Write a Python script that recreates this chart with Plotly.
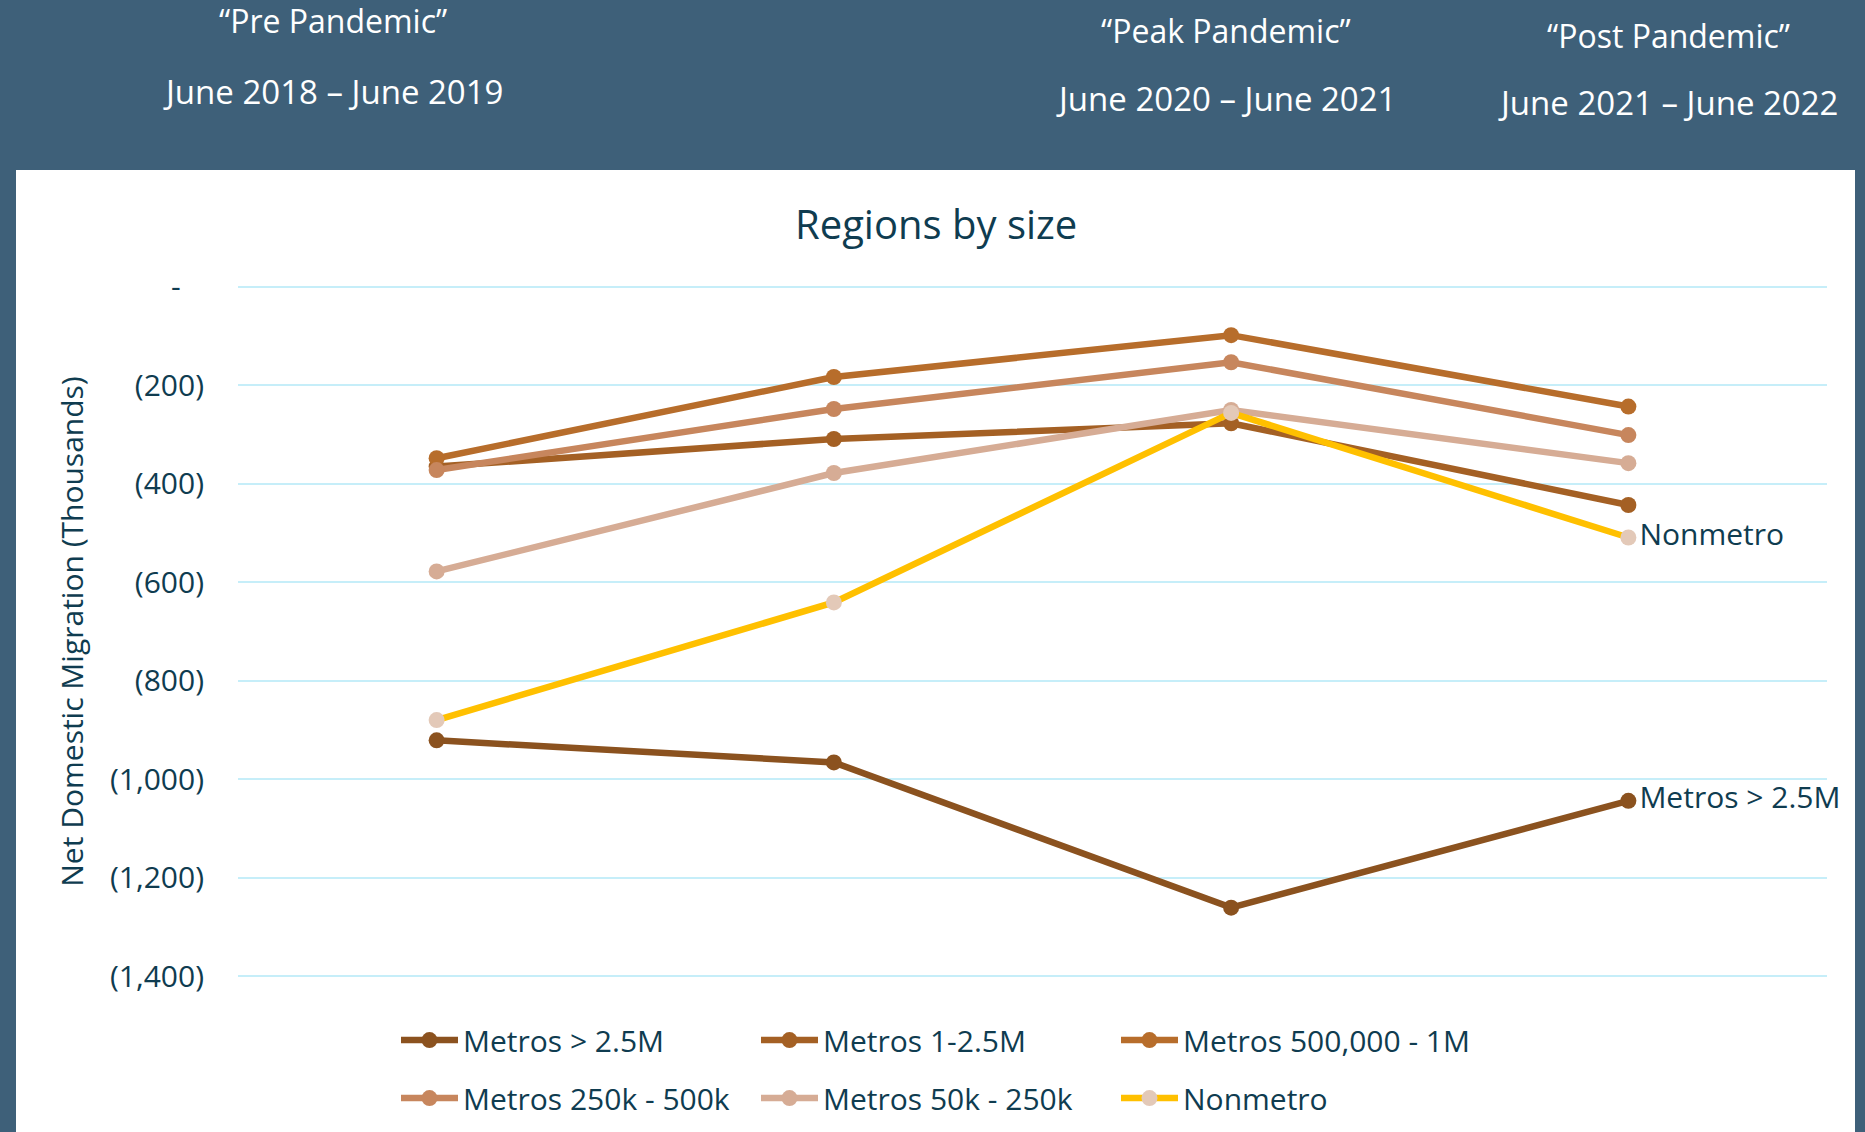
import plotly.graph_objects as go

# ---- data (thousands) ----
periods = ["June 2018 – June 2019", "June 2019 – June 2020", "June 2020 – June 2021", "June 2021 – June 2022"]
series_names = ["Metros > 2.5M", "Metros 1-2.5M", "Metros 500,000 - 1M",
                "Metros 250k - 500k", "Metros 50k - 250k", "Nonmetro"]
metros_gt_2_5m = [-921, -966, -1261, -1044]
metros_1_2_5m = [-365, -309, -277, -443]
metros_500k_1m = [-348, -183, -98, -243]
metros_250k_500k = [-372, -248, -153, -301]
metros_50k_250k = [-578, -378, -250, -358]
nonmetro = [-880, -641, -256, -509]
series_values = [metros_gt_2_5m, metros_1_2_5m, metros_500k_1m,
                 metros_250k_500k, metros_50k_250k, nonmetro]
end_labels = ["Metros > 2.5M", "", "", "", "", "Nonmetro"]

tick_vals = [0, -200, -400, -600, -800, -1000, -1200, -1400]
tick_text = ["-\u00a0\u00a0\u00a0", "(200)", "(400)", "(600)", "(800)", "(1,000)", "(1,200)", "(1,400)"]

header_top = ["“Pre Pandemic”", "“Peak Pandemic”", "“Post Pandemic”"]
header_bottom = ["June 2018 – June 2019", "June 2020 – June 2021", "June 2021 – June 2022"]

# ---- styles ----
line_colors = ["#8B521F", "#A46024", "#B76D2B", "#C7865D", "#D6AC95", "#FFC000"]
marker_colors = ["#8B521F", "#A46024", "#B76D2B", "#C7865D", "#D6AC95", "#E3C9B8"]
FONT = "Open Sans"
TXT = "#0F3C50"
BG = "#3E6079"

fig = go.Figure()
for i, (name, vals) in enumerate(zip(series_names, series_values)):
    texts = [""] * (len(vals) - 1) + [end_labels[i]]
    fig.add_trace(go.Scatter(
        x=periods, y=vals, name=name,
        mode="lines+markers+text" if end_labels[i] else "lines+markers",
        text=texts, textposition="middle right",
        textfont=dict(family=FONT, size=30, color=TXT),
        line=dict(color=line_colors[i], width=6.5),
        marker=dict(color=marker_colors[i], size=16),
        legend="legend" if i < 3 else "legend2",
        cliponaxis=False,
    ))

W, H = 1865, 1132
Y_LO, Y_HI = -1410, 10
unit = 689 / 1400.0
L, R = 238, 38
T = 287 - (Y_HI - 0) * unit
B = 156 - (-1400 - Y_LO) * unit
pw, ph = W - L - R, H - T - B

def px(x):
    return (x - L) / pw

def py(y):
    return (H - B - y) / ph

annotations = []
header_x = [333, 1226, 1668]
header_y1 = [21, 31, 36]
header_y2 = [92, 99, 103]
for j in range(3):
    annotations.append(dict(x=px(header_x[j]), y=py(header_y1[j]), xref="paper", yref="paper",
                            text=header_top[j], showarrow=False, xanchor="center", yanchor="middle",
                            font=dict(family=FONT, size=32, color="white")))
    annotations.append(dict(x=px(header_x[j]), y=py(header_y2[j]), xref="paper", yref="paper",
                            text=header_bottom[j], showarrow=False, xanchor="center", yanchor="middle",
                            font=dict(family=FONT, size=33, color="white")))
annotations.append(dict(x=px(936), y=py(224), xref="paper", yref="paper", text="Regions by size",
                        showarrow=False, xanchor="center", yanchor="middle",
                        font=dict(family=FONT, size=40, color=TXT)))

legend_style = dict(orientation="h", x=px(396), xanchor="left", yanchor="middle",
                    entrywidth=288, entrywidthmode="pixels", itemwidth=57,
                    bgcolor="rgba(0,0,0,0)",
                    font=dict(family=FONT, size=30, color=TXT), traceorder="normal")

fig.update_layout(
    width=W, height=H,
    margin=dict(l=L, r=R, t=T, b=B, autoexpand=False),
    paper_bgcolor=BG, plot_bgcolor="white",
    font=dict(family=FONT, color=TXT),
    showlegend=True,
    shapes=[dict(type="rect", xref="paper", yref="paper", x0=px(16), x1=px(1855),
                 y0=py(1140), y1=py(170), fillcolor="white", line=dict(width=0), layer="below")],
    annotations=annotations,
    xaxis=dict(range=[-0.5, 3.5], showticklabels=False, showgrid=False, zeroline=False,
               showline=False, fixedrange=True),
    yaxis=dict(range=[Y_LO, Y_HI], tickvals=tick_vals, ticktext=tick_text,
               tickfont=dict(family=FONT, size=30, color=TXT),
               gridcolor="#C6EEF9", gridwidth=2, zeroline=False, showline=False,
               ticklabelstandoff=33, automargin=False,
               title=dict(text="Net Domestic Migration (Thousands)", standoff=17,
                          font=dict(family=FONT, size=30, color=TXT))),
    legend=dict(y=py(1040), **legend_style),
    legend2=dict(y=py(1098), **legend_style),
)

fig.write_html(
    "out.html",
    config={"displayModeBar": False},
    post_script="document.body.style.margin='0';document.body.style.background='%s';" % BG,
)
